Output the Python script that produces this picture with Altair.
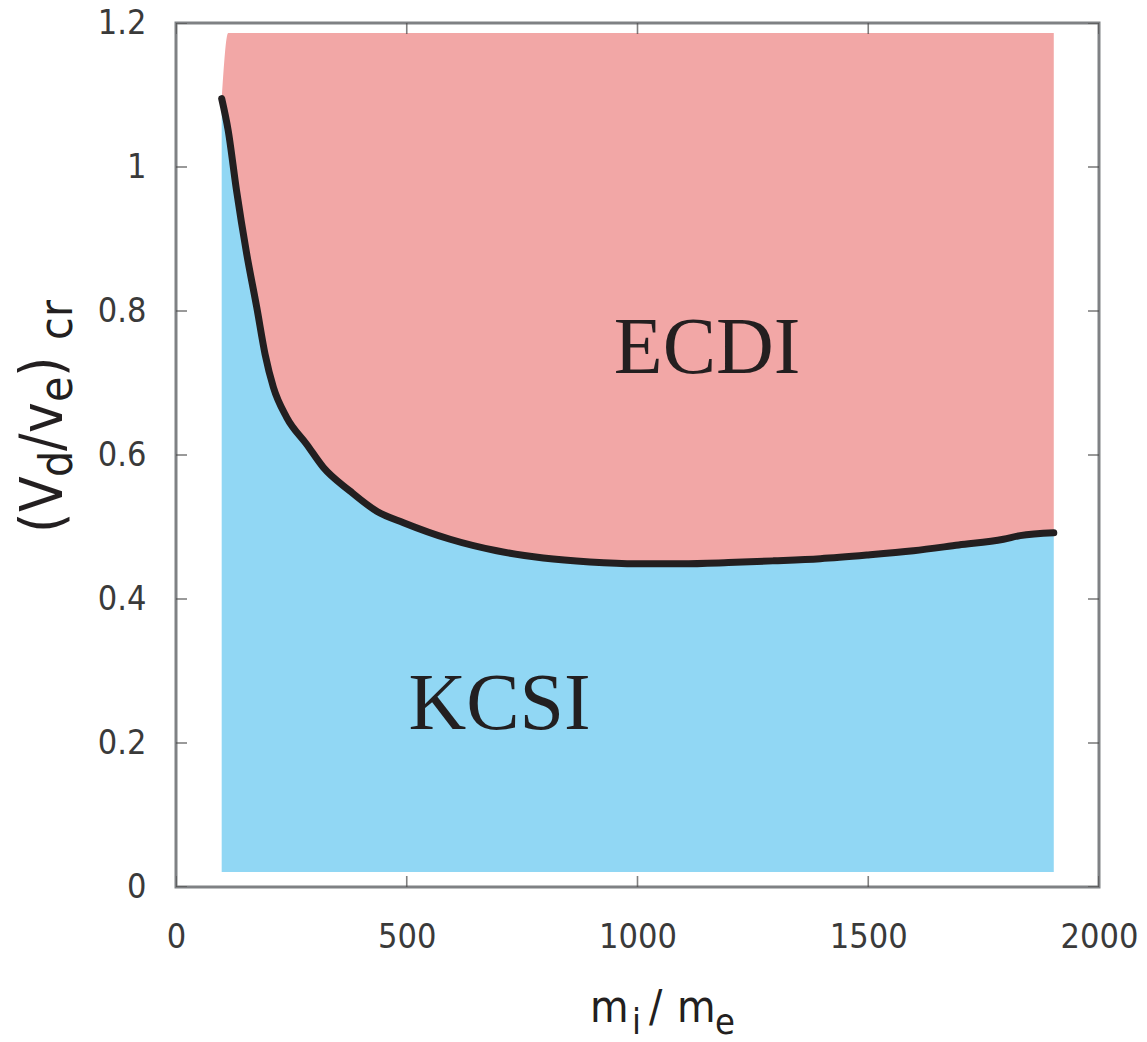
import altair as alt
import pandas as pd

# Critical drift velocity (V_d / v_e)_cr against ion-to-electron mass ratio
mass_ratio = [99, 113, 131, 153, 175, 193, 211, 240, 283, 319, 377, 435, 493,
              594, 695, 796, 897, 998, 1096, 1197, 1295, 1396, 1497, 1598,
              1696, 1793, 1829, 1902]
vd_cr = [1.095, 1.051, 0.968, 0.880, 0.805, 0.740, 0.694, 0.652, 0.615,
         0.583, 0.550, 0.522, 0.506, 0.483, 0.467, 0.457, 0.4515, 0.449,
         0.449, 0.4506, 0.453, 0.456, 0.461, 0.467, 0.475, 0.483, 0.488,
         0.492]

# extent of the shaded regions
kcsi_floor = 0.021
ecdi_ceiling = 1.186

# region names and where they sit
regions = ["ECDI", "KCSI"]
region_x = [1151, 701]
region_y = [0.714, 0.219]

# axis ticks
x_ticks = [0, 500, 1000, 1500, 2000]
y_ticks = [0, 0.2, 0.4, 0.6, 0.8, 1.0, 1.2]

PINK = "#F2A7A6"
BLUE = "#91D7F4"
INK = "#231F20"
TICK = "#4a4a4a"
FRAME = "#7f8184"
LABEL_FONT = "DejaVu Sans Condensed"
TITLE_FONT = "DejaVu Sans Condensed"

curve = pd.DataFrame({"mr": mass_ratio, "v": vd_cr})
curve["floor"] = kcsi_floor
curve["ceil"] = ecdi_ceiling
curve.loc[0, "ceil"] = curve.loc[0, "v"]

xs = alt.Scale(domain=[0, 2000], nice=False, zero=False)
ys = alt.Scale(domain=[0, 1.2], nice=False, zero=False)

x_axis = alt.Axis(values=x_ticks, format="d", title=None, grid=False,
                  ticks=False, domain=False, labelFont=LABEL_FONT,
                  labelFontSize=34, labelColor="#3a3a3a", labelPadding=33,
                  labelFlush=False, labelOverlap=False)
y_axis = alt.Axis(values=y_ticks, format="~g", title=None, grid=False,
                  ticks=False, domain=False, labelFont=LABEL_FONT,
                  labelFontSize=34, labelColor="#3a3a3a", labelPadding=30,
                  labelFlush=False, labelOverlap=False)

base = alt.Chart(curve)

ecdi = base.mark_area(color=PINK, opacity=1, interpolate="monotone").encode(
    x=alt.X("mr:Q", scale=xs, axis=x_axis),
    y=alt.Y("ceil:Q", scale=ys, axis=y_axis),
    y2="v:Q",
)
kcsi = base.mark_area(color=BLUE, opacity=1, interpolate="monotone").encode(
    x=alt.X("mr:Q", scale=xs),
    y=alt.Y("v:Q", scale=ys),
    y2="floor:Q",
)
boundary = base.mark_line(color=INK, strokeWidth=7, strokeCap="round",
                          strokeJoin="round", interpolate="monotone").encode(
    x=alt.X("mr:Q", scale=xs),
    y=alt.Y("v:Q", scale=ys),
)

labels = alt.Chart(pd.DataFrame({"name": regions, "x": region_x, "y": region_y})).mark_text(
    font="Liberation Serif", fontSize=80, color=INK, align="center",
    baseline="alphabetic",
).encode(x=alt.X("x:Q", scale=xs), y=alt.Y("y:Q", scale=ys), text="name:N")

# inward ticks on all four sides (half of each tick is clipped away)
yt = pd.DataFrame({"t": y_ticks})
xt = pd.DataFrame({"t": x_ticks})
tick_style = dict(size=22, thickness=1.6, color=TICK, clip=True)
left_ticks = alt.Chart(yt).mark_tick(orient="horizontal", **tick_style).encode(
    x=alt.datum(0, scale=xs), y=alt.Y("t:Q", scale=ys))
right_ticks = alt.Chart(yt).mark_tick(orient="horizontal", **tick_style).encode(
    x=alt.datum(2000, scale=xs), y=alt.Y("t:Q", scale=ys))
bottom_ticks = alt.Chart(xt).mark_tick(orient="vertical", **tick_style).encode(
    x=alt.X("t:Q", scale=xs), y=alt.datum(0, scale=ys))
top_ticks = alt.Chart(xt).mark_tick(orient="vertical", **tick_style).encode(
    x=alt.X("t:Q", scale=xs), y=alt.datum(1.2, scale=ys))


def glyph(text, x, y, size, angle=0):
    return alt.Chart(alt.Data(values=[{}])).mark_text(
        text=text, font=TITLE_FONT, fontSize=size, color=INK, align="left",
        baseline="alphabetic", angle=angle,
    ).encode(x=alt.value(x), y=alt.value(y))


# x title: m_i / m_e
x_title = [
    glyph("m", 414, 999, 44),
    glyph("i", 456, 1011, 36),
    glyph("/", 473, 999, 44),
    glyph("m", 501, 999, 44),
    glyph("e", 539, 1011, 36),
]

# y title: (V_d / v_e)_cr, written bottom to top
y_title = [
    glyph("(", -114, 510, 58, 270),
    glyph("V", -114, 489, 58, 270),
    glyph("d", -104, 454, 46, 270),
    glyph("/", -114, 428, 58, 270),
    glyph("v", -114, 410, 58, 270),
    glyph("e", -104, 379, 46, 270),
    glyph(")", -114, 354, 58, 270),
    glyph("c", -104, 317, 46, 270),
    glyph("r", -104, 294, 46, 270),
]

chart = alt.layer(
    ecdi, kcsi, boundary, labels,
    left_ticks, right_ticks, bottom_ticks, top_ticks,
    *x_title, *y_title,
).properties(
    width=923, height=864,
    autosize=alt.AutoSizeParams(type="none"),
    padding={"left": 176, "top": 23, "right": 48, "bottom": 155},
).configure_view(stroke=FRAME, strokeWidth=3)

chart.save("out.html", embed_options={"renderer": "svg", "actions": False})
